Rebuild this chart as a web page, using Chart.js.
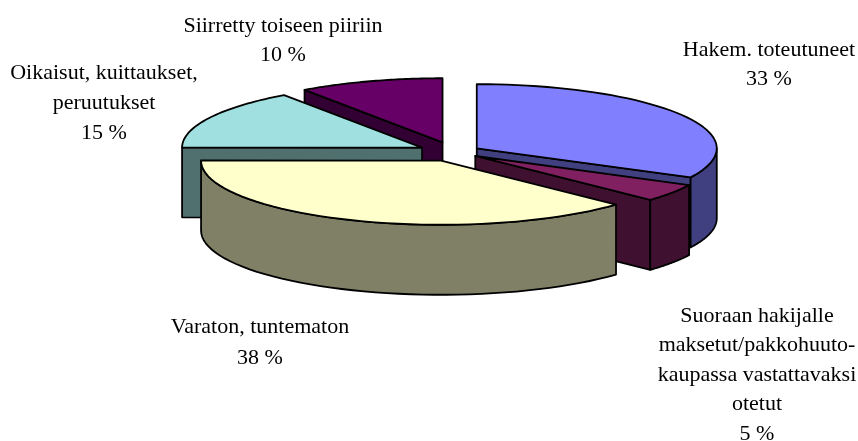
<!DOCTYPE html>
<html><head><meta charset="utf-8">
<style>html,body{margin:0;padding:0;background:#fff}#w{width:858px;height:441px;position:relative}</style>
<script src="https://cdn.jsdelivr.net/npm/chart.js@4"></script>
</head><body><div id="w"><canvas id="c" width="858" height="441"></canvas></div>
<script>
const categories = ["Hakem. toteutuneet","Suoraan hakijalle maksetut/pakkohuutokaupassa vastattavaksi otetut","Varaton, tuntematon","Oikaisut, kuittaukset, peruutukset","Siirretty toiseen piiriin"];
const shares = [32.5, 4.5, 38.05, 15.2, 9.75];
const percentLabels = ["33 %","5 %","38 %","15 %","10 %"];
const topColors = ["#8080FF","#802060","#FFFFCC","#A0E0E0","#660066"];
const wallColors = ["#404080","#401030","#808066","#507070","#330033"];
const labelLines = [
  ["Hakem. toteutuneet"],
  ["Suoraan hakijalle","maksetut/pakkohuuto-","kaupassa vastattavaksi","otetut"],
  ["Varaton, tuntematon"],
  ["Oikaisut, kuittaukset,","peruutukset"],
  ["Siirretty toiseen piiriin"]
];
// layout of the pseudo-3D view
const view = {cy:152, squash:0.267, depth:70, radius:240,
  explode:[26.7,26,35,36,38], paint:[4,3,0,1,2]};
const labelPos = [[769,50,29.5],[757,316,29.5],[260,327,31],[104,73.5,30],[283,26,29]];

const pie3d = {
  id:'pie3d',
  beforeDatasetDraw(chart,args){
    const ctx = chart.ctx, arcs = chart.getDatasetMeta(0).data;
    const pt = (arc,i,a,dz)=>{
      const d = view.explode[i], mid=(arc.startAngle+arc.endAngle)/2;
      const dx = Math.cos(mid)*d, dy = Math.sin(mid)*d;
      return [arc.x+dx+arc.outerRadius*Math.cos(a), view.cy+view.squash*(dy+arc.outerRadius*Math.sin(a))+dz];
    };
    const apex = (arc,i,dz)=>{
      const d = view.explode[i], mid=(arc.startAngle+arc.endAngle)/2;
      return [arc.x+Math.cos(mid)*d, view.cy+view.squash*Math.sin(mid)*d+dz];
    };
    const poly = (pts,fill)=>{
      ctx.beginPath(); pts.forEach((p,k)=>k?ctx.lineTo(p[0],p[1]):ctx.moveTo(p[0],p[1])); ctx.closePath();
      if(fill){ctx.fillStyle=fill;ctx.fill();}
      ctx.lineWidth=1.8;ctx.strokeStyle='#000';ctx.lineJoin='round';ctx.stroke();
    };
    view.paint.forEach(i=>{
      const arc = arcs[i], s=arc.startAngle, e=arc.endAngle, mid=(s+e)/2, D=view.depth, wall=wallColors[i];
      const A=apex(arc,i,0), M=pt(arc,i,mid,0), inner=[M[0]-A[0],M[1]-A[1]];
      [s,e].forEach(a=>{
        const R=pt(arc,i,a,0), ex=R[0]-A[0], ey=R[1]-A[1];
        if(Math.abs(ex)<1) return;
        if(inner[1] < ey/ex*inner[0]) poly([A,R,[R[0],R[1]+D],[A[0],A[1]+D]],wall);
      });
      // rim wall: only the part facing the viewer (lower half of the ellipse)
      const lo=Math.max(s,0), hi=Math.min(e,Math.PI);
      if(hi>lo){
        const top=[],bot=[];
        for(let k=0;k<=48;k++){const a=lo+(hi-lo)*k/48;top.push(pt(arc,i,a,0));bot.unshift(pt(arc,i,a,D));}
        poly(top.concat(bot),wall);
      }
      // top face drawn by the library's arc element
      ctx.save();
      ctx.translate(0,view.cy);
      ctx.scale(1,view.squash);
      ctx.translate(Math.cos(mid)*view.explode[i],Math.sin(mid)*view.explode[i]-arc.y);
      arc.draw(ctx);
      ctx.restore();
      const top=[A];
      for(let k=0;k<=48;k++){top.push(pt(arc,i,s+(e-s)*k/48,0));}
      poly(top,null);
    });
    return false;
  },
  afterDatasetsDraw(chart){
    const ctx=chart.ctx;
    ctx.save();
    ctx.font='22px "Liberation Serif"';ctx.fillStyle='#000';ctx.textAlign='center';ctx.textBaseline='middle';
    labelLines.forEach((lines,i)=>{
      const [x,y,lh]=labelPos[i];
      lines.concat(percentLabels[i]).forEach((t,k)=>ctx.fillText(t,x,y+k*lh));
    });
    ctx.restore();
  }
};

new Chart(document.getElementById('c'),{
  type:'pie',
  data:{labels:categories,datasets:[{data:shares,backgroundColor:topColors,borderWidth:0,radius:view.radius}]},
  options:{responsive:false,animation:false,
    layout:{padding:{left:50}},
    plugins:{legend:{display:false},tooltip:{enabled:false},title:{display:false}}},
  plugins:[pie3d]
});
</script></body></html>
